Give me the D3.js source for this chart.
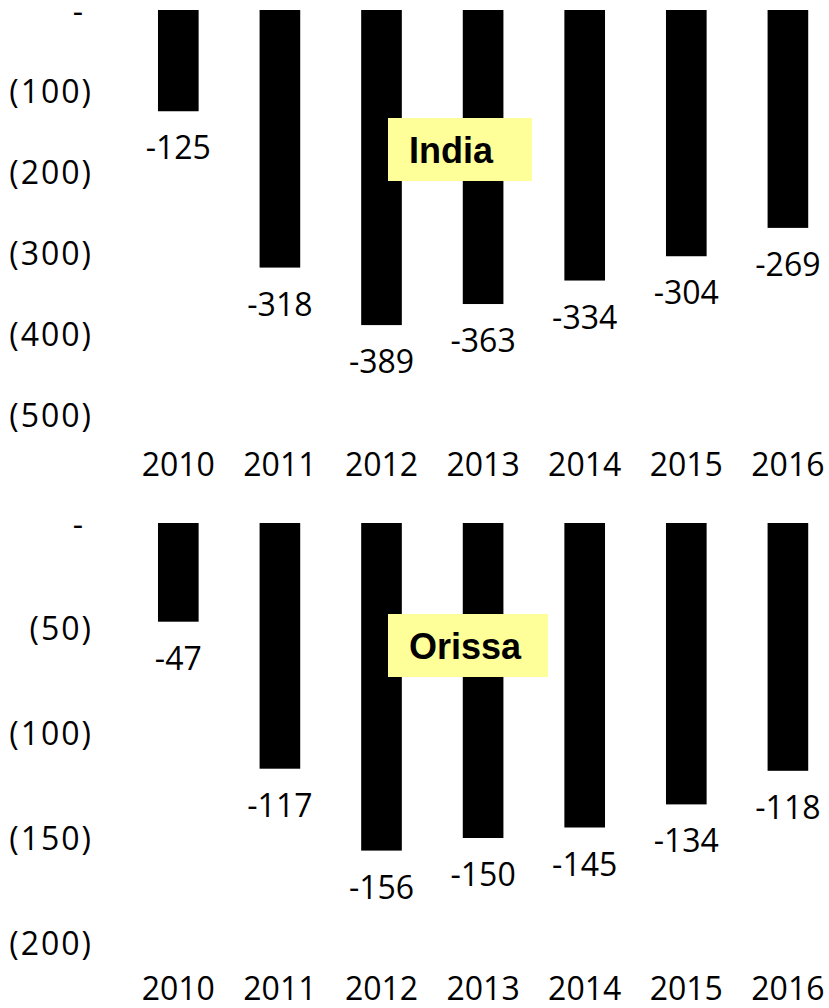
<!DOCTYPE html>
<html>
<head>
<meta charset="utf-8">
<script src="https://cdn.jsdelivr.net/npm/d3@7"></script>
<style>
  html, body { margin: 0; padding: 0; background: #fff; }
  svg { display: block; }
  .lbl { font-family: "Open Sans", "Noto Sans", sans-serif; font-size: 32px; fill: #000; }
  .ylbl { letter-spacing: 2px; }
  .box-text { font-family: "Liberation Sans", Arial, sans-serif; font-weight: bold; font-size: 36px; fill: #000; }
</style>
</head>
<body>
<svg id="chart" width="829" height="1008"></svg>
<script>
// ---- data ----
const years = ["2010", "2011", "2012", "2013", "2014", "2015", "2016"];
const indiaValues = [-125, -318, -389, -363, -334, -304, -269];
const orissaValues = [-47, -117, -156, -150, -145, -134, -118];
const indiaTicks = [0, -100, -200, -300, -400, -500];
const orissaTicks = [0, -50, -100, -150, -200];
const panelTitles = ["India", "Orissa"];

const svg = d3.select("#chart");

const x = d3.scaleBand()
  .domain(years)
  .range([127.5, 838.7])
  .paddingInner(0.6)
  .paddingOuter(0.3);

const fmt = v => v === 0 ? "-" : "(" + d3.format(",")(Math.abs(v)) + ")";

function panel(values, ticks, yMin, top, bottom, xPad, title, box) {
  const y = d3.scaleLinear().domain([0, yMin]).range([top, bottom]);
  const g = svg.append("g");

  // y axis labels
  const ya = g.append("g")
    .attr("transform", "translate(91,0)")
    .call(d3.axisLeft(y).tickValues(ticks).tickFormat(fmt).tickSize(0).tickPadding(0));
  ya.select(".domain").remove();
  ya.selectAll("text")
    .attr("class", d => d === 0 ? "lbl" : "lbl ylbl")
    .attr("font-size", null).attr("font-family", null)
    .attr("dy", d => d === 0 ? "0.4em" : "0.36em")
    .attr("x", d => d === 0 ? -8 : 2);

  // x axis labels
  const xa = g.append("g")
    .attr("transform", `translate(0,${bottom})`)
    .call(d3.axisBottom(x).tickSize(0).tickPadding(xPad));
  xa.select(".domain").remove();
  xa.selectAll("text")
    .attr("class", "lbl")
    .attr("font-size", null).attr("font-family", null);

  // bars
  g.selectAll("rect.bar")
    .data(values)
    .join("rect")
    .attr("class", "bar")
    .attr("x", (d, i) => x(years[i]))
    .attr("width", x.bandwidth())
    .attr("y", y(0))
    .attr("height", d => y(d) - y(0))
    .attr("fill", "#000");

  // value labels
  g.selectAll("text.val")
    .data(values)
    .join("text")
    .attr("class", "lbl val")
    .attr("x", (d, i) => x(years[i]) + x.bandwidth() / 2)
    .attr("y", d => y(d) + 48)
    .attr("text-anchor", "middle")
    .text(d => d);

  // annotation box
  g.append("rect")
    .attr("x", box.x).attr("y", box.y)
    .attr("width", box.w).attr("height", box.h)
    .attr("fill", "#ffff99");
  g.append("text")
    .attr("class", "box-text")
    .attr("x", box.x + 21)
    .attr("y", box.y + box.h - 18)
    .text(title);
}

panel(indiaValues, indiaTicks, -500, 10, 415, 38, panelTitles[0], {x: 388, y: 118, w: 144, h: 63});
panel(orissaValues, orissaTicks, -200, 523, 943, 34, panelTitles[1], {x: 388, y: 614, w: 160, h: 63});
</script>
</body>
</html>
